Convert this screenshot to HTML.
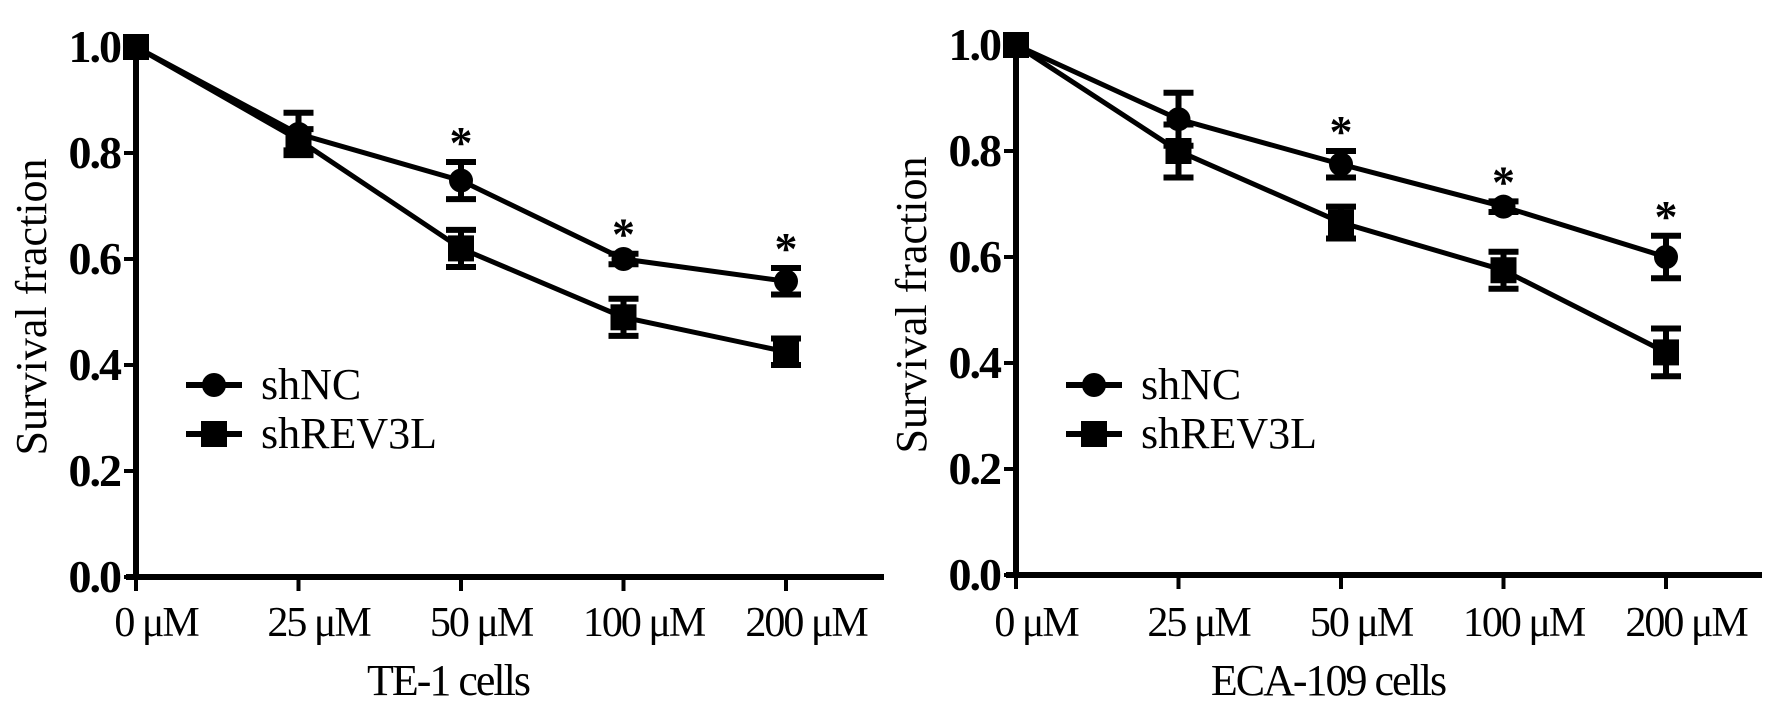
<!DOCTYPE html>
<html><head><meta charset="utf-8"><style>
html,body{margin:0;padding:0;background:#fff;}
svg{display:block;}
text{font-family:"Liberation Serif",serif;fill:#000;}
</style></head><body>
<svg id="chart" width="1772" height="709" viewBox="0 0 1772 709" xmlns="http://www.w3.org/2000/svg"></svg>
<script>
const categories = ["0 \u03bcM","25 \u03bcM","50 \u03bcM","100 \u03bcM","200 \u03bcM"];
const yTicks = [0,0.2,0.4,0.6,0.8,1.0];
const yTickLabels = ["0.0","0.2","0.4","0.6","0.8","1.0"];
const te1NC = [1.0,0.836,0.748,0.60,0.558];
const te1NCErr = [0.005,0.04,0.035,0.01,0.025];
const te1REV = [1.0,0.825,0.62,0.49,0.425];
const te1REVErr = [0.005,0.02,0.035,0.035,0.025];
const te1Stars = [false,false,true,true,true];
const ecaNC = [1.0,0.86,0.775,0.695,0.60];
const ecaNCErr = [0.005,0.05,0.025,0.01,0.04];
const ecaREV = [1.0,0.80,0.665,0.575,0.42];
const ecaREVErr = [0.005,0.05,0.03,0.035,0.045];
const ecaStars = [false,false,true,true,true];
const panelTitles = ["TE-1 cells","ECA-109 cells"];
const seriesNames = ["shNC","shREV3L"];

const NS="http://www.w3.org/2000/svg";
const svg=document.getElementById('chart');
function mk(tag,attrs,parent){const e=document.createElementNS(NS,tag);for(const k in attrs)e.setAttribute(k,attrs[k]);(parent||svg).appendChild(e);return e;}

const panels=[
 {x0:136,y0:577,xEnd:884,nc:te1NC,ncE:te1NCErr,rv:te1REV,rvE:te1REVErr,st:te1Stars,title:panelTitles[0],name:'te1'},
 {x0:1016,y0:575,xEnd:1762,nc:ecaNC,ncE:ecaNCErr,rv:ecaREV,rvE:ecaREVErr,st:ecaStars,title:panelTitles[1],name:'eca109'}
];
const step=162.5, yScale=530;

panels.forEach(p=>{
  const g=mk('g',{});
  
  
  const X=i=>p.x0+i*step;
  const Y=v=>p.y0-v*yScale;
  const ya=mk('line',{x1:p.x0,y1:Y(1)-4,x2:p.x0,y2:p.y0+3,stroke:'#000','stroke-width':6},g);
  
  
  const xa=mk('line',{x1:p.x0-10,y1:p.y0,x2:p.xEnd,y2:p.y0,stroke:'#000','stroke-width':6},g);
  
  
  yTicks.forEach((t,i)=>{
    mk('line',{x1:p.x0-12,y1:Y(t),x2:p.x0,y2:Y(t),stroke:'#000','stroke-width':4},g);
    const tl=mk('text',{x:p.x0-16,y:Y(t)+15,'text-anchor':'end','font-size':46,'font-weight':'bold','letter-spacing':-2},g);
    tl.textContent=yTickLabels[i];
    
    
  });
  categories.forEach((c,i)=>{
    mk('line',{x1:X(i),y1:p.y0,x2:X(i),y2:p.y0+14,stroke:'#000','stroke-width':4},g);
    const tl=mk('text',{x:X(i)+20,y:636,'text-anchor':'middle','font-size':42,'letter-spacing':-2},g);
    tl.textContent=c;
    
    
  });
  const tt=mk('text',{x:p.x0+312,y:695,'text-anchor':'middle','font-size':44,'letter-spacing':-2},g);
  tt.textContent=p.title;
  
  
  const yt=mk('text',{x:0,y:0,'text-anchor':'middle','font-size':44,transform:`translate(${p.x0-90},${p.y0-270}) rotate(-90)`},g);
  yt.textContent='Survival fraction';
  
  
  [[p.rv,p.rvE,'square',seriesNames[1]],[p.nc,p.ncE,'circle',seriesNames[0]]].forEach(([vals,errs,shape,nm])=>{
    const pts=vals.map((v,i)=>X(i)+','+Y(v)).join(' ');
    const ln=mk('polyline',{points:pts,fill:'none',stroke:'#000','stroke-width':5},g);
    
    
    vals.forEach((v,i)=>{
      const e=errs[i];
      if(e>0.006){
        const eb=mk('path',{d:`M${X(i)},${Y(v+e)}V${Y(v-e)}M${X(i)-15},${Y(v+e)}H${X(i)+15}M${X(i)-15},${Y(v-e)}H${X(i)+15}`,stroke:'#000','stroke-width':6,fill:'none'},g);
        
        
      }
      let m;
      if(shape==='square') m=mk('rect',{x:X(i)-13,y:Y(v)-13,width:26,height:26,fill:'#000'},g);
      else m=mk('circle',{cx:X(i),cy:Y(v),r:12,fill:'#000'},g);
      
      
    });
  });
  p.st.forEach((s,i)=>{
    if(!s) return;
    const a=mk('text',{x:X(i),y:Y(p.nc[i]+p.ncE[i])-4,'text-anchor':'middle','font-size':46,'font-weight':'bold'},g);
    a.textContent='*';
    
    
  });
  const lx=p.x0+50;
  [[seriesNames[0],'circle',385],[seriesNames[1],'square',434]].forEach(([nm,shape,ly])=>{
    const lg=mk('g',{},g);
    
    
    mk('line',{x1:lx,y1:ly,x2:lx+56,y2:ly,stroke:'#000','stroke-width':6},lg);
    if(shape==='circle') mk('circle',{cx:lx+28,cy:ly,r:12,fill:'#000'},lg);
    else mk('rect',{x:lx+15,y:ly-13,width:26,height:26,fill:'#000'},lg);
    const t=mk('text',{x:lx+75,y:ly+14,'font-size':44},lg);
    t.textContent=nm;
  });
});
</script>
</body></html>
